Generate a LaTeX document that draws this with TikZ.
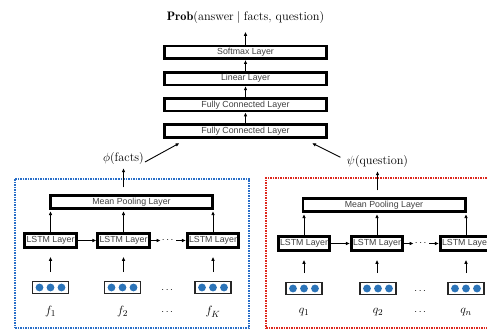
\documentclass[tikz,border=0pt]{standalone}
\usepackage{fontspec}
\usepackage{amsmath}
\newfontfamily\layerfont{Liberation Sans}
\usetikzlibrary{arrows.meta,positioning}

\definecolor{unitblue}{RGB}{44,116,184}
\definecolor{factblue}{RGB}{40,110,200}
\definecolor{questred}{RGB}{220,40,30}

\begin{document}
\begin{tikzpicture}[x=1pt, y=1pt, >={Latex[length=4pt,width=3.6pt]}, node distance=11pt]
  % Styles
  \tikzset{
    layer/.style={rectangle, draw, line width=2.6pt, inner sep=0pt, text=black!75,
      font=\layerfont\fontsize{8.8}{10}\selectfont, minimum height=12.6pt},
    wide/.style={layer, minimum width=162.4pt},
    lstm/.style={layer, minimum width=51.5pt, minimum height=14pt},
    embed/.style={rectangle, draw=black!85, line width=1.1pt, inner sep=0pt,
      minimum width=36pt, minimum height=11.5pt},
    arrow/.style={->, line width=0.9pt},
    mathlbl/.style={font=\fontsize{12.3}{14}\selectfont, inner sep=1pt},
    panel/.style={line width=1.5pt, dash pattern=on 1.5pt off 1pt, inner sep=0pt}
  }

  \useasboundingbox (0,0) rectangle (487,329);
  \clip (0,0) rectangle (487,329);

  % ----- Top: answer classifier -----
  \node[wide] (fc1) at (245.5,198) {Fully Connected Layer};
  \node[wide, above=of fc1] (fc2) {Fully Connected Layer};
  \node[wide, above=of fc2] (linear) {Linear Layer};
  \node[wide, above=of linear] (softmax) {Softmax Layer};
  \node[mathlbl, above=20pt of softmax] (prob)
    {$\mathbf{Prob}(\text{answer} \mid \text{facts, question})$};

  \draw[arrow] (fc1) -- (fc2);
  \draw[arrow] (fc2) -- (linear);
  \draw[arrow] (linear) -- (softmax);
  \draw[arrow, shorten >=7pt] (softmax) -- (prob);

  % ----- Left panel: facts encoder -----
  \node[panel, draw=factblue, minimum width=234pt, minimum height=149pt] (factbox) at (132,75.5) {};

  \node[embed] (fe1) at (50.5,41.5) {};
  \node[embed] (fe2) at (122.5,41.5) {};
  \node[embed] (fe3) at (213,41.5) {};
  \node (fedots) at (168,39) {$\cdots$};

  \node[mathlbl] (lf1) at (50.5,17) {$f_1$};
  \node[mathlbl] (lf2) at (122.5,17) {$f_2$};
  \node[mathlbl] (lfK) at (213,17) {$f_K$};
  \node (lfdots) at (168,17) {$\cdots$};

  \node[lstm] (fl1) at (50.5,88.5) {LSTM Layer};
  \node[lstm] (fl2) at (123.5,88.5) {LSTM Layer};
  \node[lstm] (fl3) at (213,88.5) {LSTM Layer};
  \node[inner sep=1pt] (fldots) at (168.5,88.5) {$\cdots$};

  \node[wide] (fmean) at (131.5,127) {Mean Pooling Layer};
  \node[mathlbl] (phi) at (123.5,170) {$\phi(\text{facts})$};

  \draw[arrow, shorten <=9pt, shorten >=8pt] (fe1) -- (fl1);
  \draw[arrow, shorten <=9pt, shorten >=8pt] (fe2.north -| fl2) -- (fl2);
  \draw[arrow, shorten <=9pt, shorten >=8pt] (fe3) -- (fl3);
  \draw[arrow] (fl1) -- (fl2);
  \draw[arrow] (fl2) -- (fldots);
  \draw[arrow] (fldots) -- (fl3);
  \draw[arrow, shorten >=1.5pt] (fl1.north) -- (fl1.north |- fmean.south);
  \draw[arrow, shorten >=1.5pt] (fl2.north) -- (fl2.north |- fmean.south);
  \draw[arrow, shorten >=1.5pt] (fl3.north) -- (fl3.north |- fmean.south);
  \draw[arrow, shorten <=7pt, shorten >=2pt] (fmean.north -| phi) -- (phi);

  % ----- Right panel: question encoder -----
  \node[panel, draw=questred, minimum width=234pt, minimum height=150pt] (questbox) at (383,76) {};

  \node[embed] (qe1) at (304,40.5) {};
  \node[embed] (qe2) at (378,40.5) {};
  \node[embed] (qe3) at (466,40.5) {};
  \node (qedots) at (421,38) {$\cdots$};

  \node[mathlbl] (lq1) at (304,16.5) {$q_1$};
  \node[mathlbl] (lq2) at (378,16.5) {$q_2$};
  \node[mathlbl] (lqn) at (466,16.5) {$q_n$};
  \node (lqdots) at (421,16.5) {$\cdots$};

  \node[lstm] (ql1) at (304,85.5) {LSTM Layer};
  \node[lstm] (ql2) at (377,85.5) {LSTM Layer};
  \node[lstm] (ql3) at (466,85.5) {LSTM Layer};
  \node[inner sep=1pt] (qldots) at (421.5,85.5) {$\cdots$};

  \node[wide] (qmean) at (384,124) {Mean Pooling Layer};
  \node[mathlbl] (psi) at (377.5,167) {$\psi(\text{question})$};

  \draw[arrow, shorten <=9pt, shorten >=8pt] (qe1) -- (ql1);
  \draw[arrow, shorten <=9pt, shorten >=8pt] (qe2.north -| ql2) -- (ql2);
  \draw[arrow, shorten <=9pt, shorten >=8pt] (qe3) -- (ql3);
  \draw[arrow] (ql1) -- (ql2);
  \draw[arrow] (ql2) -- (qldots);
  \draw[arrow] (qldots) -- (ql3);
  \draw[arrow, shorten >=1.5pt] (ql1.north) -- (ql1.north |- qmean.south);
  \draw[arrow, shorten >=1.5pt] (ql2.north) -- (ql2.north |- qmean.south);
  \draw[arrow, shorten >=1.5pt] (ql3.north) -- (ql3.north |- qmean.south);
  \draw[arrow, shorten <=7pt, shorten >=2pt] (qmean.north -| psi) -- (psi);

  % ----- Embedding units -----
  \foreach \e in {fe1,fe2,fe3,qe1,qe2,qe3}
    \foreach \d in {-11,0,11}
      \fill[unitblue] ([xshift=\d pt]\e.center) circle (3.9pt);

  % ----- Encodings into classifier -----
  \draw[arrow] ([yshift=-3pt]phi.east) -- ([xshift=16.5pt,yshift=-4.5pt]fc1.south west);
  \draw[arrow, shorten <=6pt] ([yshift=2pt]psi.west) -- ([xshift=-16pt,yshift=-4.5pt]fc1.south east);

\end{tikzpicture}
\end{document}
